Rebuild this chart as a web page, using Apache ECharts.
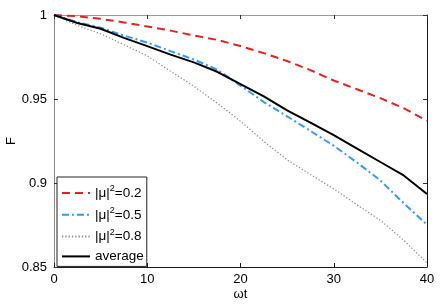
<!DOCTYPE html>
<html>
<head>
<meta charset="utf-8">
<script src="https://cdn.jsdelivr.net/npm/echarts@6/dist/echarts.min.js"></script>
<style>
html,body{margin:0;padding:0;background:#fff;}
#chart{width:443px;height:305px;}
</style>
</head>
<body>
<div id="chart"></div>
<script>
const xValues = [0, 2.5, 5, 7.5, 10, 12.5, 15, 17.5, 20, 22.5, 25, 27.5, 30, 32.5, 35, 37.5, 40];
const mu02 = [1.0, 0.9993, 0.9977, 0.9956, 0.9932, 0.9907, 0.9878, 0.9852, 0.9815, 0.9773, 0.9726, 0.9672, 0.9610, 0.9558, 0.9505, 0.9445, 0.9371];
const mu05 = [1.0, 0.9957, 0.9925, 0.9878, 0.9836, 0.9785, 0.9735, 0.9675, 0.9580, 0.9482, 0.9397, 0.9310, 0.9222, 0.9122, 0.9015, 0.8880, 0.8752];
const mu08 = [1.0, 0.9938, 0.9888, 0.9823, 0.9757, 0.9665, 0.9576, 0.9475, 0.9368, 0.9248, 0.9138, 0.9050, 0.8965, 0.8870, 0.8778, 0.8660, 0.8524];
const avg  = [1.0, 0.9952, 0.9918, 0.9864, 0.9815, 0.9764, 0.9718, 0.9662, 0.9588, 0.9515, 0.9432, 0.9360, 0.9285, 0.9205, 0.9125, 0.9045, 0.8934];
const seriesNames = ['|μ|²=0.2', '|μ|²=0.5', '|μ|²=0.8', 'average'];
const xTicks = [0, 10, 20, 30, 40];
const yTickLabels = {'0.85': '0.85', '0.9': '0.9', '0.95': '0.95', '1': '1'};

const FONT = '"Liberation Sans", Arial, sans-serif';
const pairs = arr => xValues.map((x, i) => [x, arr[i]]);

const chart = echarts.init(document.getElementById('chart'), null, {renderer: 'canvas'});
const baseX = {
  type: 'value', min: 0, max: 40, interval: 10,
  splitLine: {show: false}
};
const baseY = {
  type: 'value', min: 0.85, max: 1, interval: 0.05,
  splitLine: {show: false}
};
chart.setOption({
  backgroundColor: '#fff',
  animation: false,
  grid: {left: 54, right: 16, top: 15, bottom: 38, containLabel: false, outerBoundsMode: 'none'},
  xAxis: [
    Object.assign({}, baseX, {
      position: 'bottom',
      name: 'ωt', nameLocation: 'middle', nameGap: 21, nameMoveOverlap: false,
      nameTextStyle: {fontFamily: FONT, fontSize: 13, color: '#000'},
      axisLine: {show: true, onZero: false, lineStyle: {color: '#1a1a1a', width: 1}},
      axisTick: {show: true, inside: true, length: 4, lineStyle: {color: '#1a1a1a'}},
      axisLabel: {fontFamily: FONT, fontSize: 13, color: '#000', margin: 6,
        formatter: v => xTicks.includes(v) ? String(v) : ''}
    }),
    Object.assign({}, baseX, {
      position: 'top',
      axisLine: {show: true, onZero: false, lineStyle: {color: '#999', width: 1}},
      axisTick: {show: true, inside: true, length: 4, lineStyle: {color: '#333'}},
      axisLabel: {show: false}
    })
  ],
  yAxis: [
    Object.assign({}, baseY, {
      position: 'left',
      name: 'F', nameLocation: 'middle', nameGap: 36, nameMoveOverlap: false,
      nameTextStyle: {fontFamily: FONT, fontSize: 13, color: '#000'},
      axisLine: {show: true, onZero: false, lineStyle: {color: '#888', width: 1}},
      axisTick: {show: true, inside: true, length: 4, lineStyle: {color: '#333'}},
      axisLabel: {fontFamily: FONT, fontSize: 13, color: '#000', margin: 7,
        formatter: v => yTickLabels[String(Math.round(v * 100) / 100)] || ''}
    }),
    Object.assign({}, baseY, {
      position: 'right',
      axisLine: {show: true, onZero: false, lineStyle: {color: '#1a1a1a', width: 1}},
      axisTick: {show: true, inside: true, length: 4, lineStyle: {color: '#333'}},
      axisLabel: {show: false}
    })
  ],
  legend: {
    orient: 'vertical',
    left: 57, top: 177,
    backgroundColor: '#fff',
    borderColor: '#222', borderWidth: 1, borderRadius: 0,
    padding: [7, 3, 3, 4],
    itemWidth: 28, itemHeight: 14, itemGap: 5.8,
    selectedMode: false,
    itemStyle: {opacity: 0},
    data: seriesNames,
    textStyle: {
      fontFamily: FONT, fontSize: 13.5, color: '#000',
      rich: {
        n: {fontFamily: FONT, fontSize: 13.5, color: '#000'},
        s: {fontFamily: FONT, fontSize: 9, color: '#000', padding: [0, 0, 9, 0]}
      }
    },
    formatter: name => {
      if (name.startsWith('|μ|²')) {
        return '{n||μ|}{s|2}{n|' + name.slice(4) + '}';
      }
      return '{n|' + name + '}';
    }
  },
  series: [
    {name: seriesNames[0], type: 'line', data: pairs(mu02), symbol: 'none',
      lineStyle: {color: '#e8201e', width: 2, type: [8, 5]}, itemStyle: {color: '#e8201e'}},
    {name: seriesNames[1], type: 'line', data: pairs(mu05), symbol: 'none',
      lineStyle: {color: '#3399ff', width: 2, type: [7, 3, 2, 3]}, itemStyle: {color: '#3399ff'}},
    {name: seriesNames[2], type: 'line', data: pairs(mu08), symbol: 'none',
      lineStyle: {color: '#8c8c8c', width: 1.2, type: [1.3, 2]}, itemStyle: {color: '#8c8c8c'}},
    {name: seriesNames[3], type: 'line', data: pairs(avg), symbol: 'none',
      lineStyle: {color: '#000', width: 2}, itemStyle: {color: '#000'}}
  ]
});
</script>
</body>
</html>
